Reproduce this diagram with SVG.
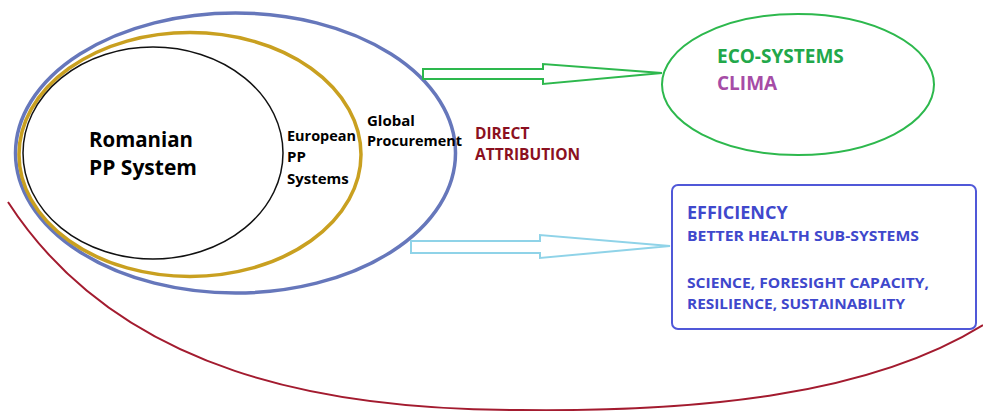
<svg xmlns="http://www.w3.org/2000/svg" width="983" height="411" viewBox="0 0 983 411">
<style>
text{font-family:"Open Sans","Liberation Sans",sans-serif;font-weight:700}
.blk{fill:#000}
.blu{fill:#3f48cc}
</style>
<rect width="983" height="411" fill="#fff"/>
<g id="outer-arc">
<path d="M8,202 C120,375 330,410 520,410 C700,412 870,395 983,325" fill="none" stroke="#a31b2f" stroke-width="2"/>
</g>
<g id="global">
<ellipse cx="235.5" cy="153" rx="220" ry="140" fill="none" stroke="#6677bb" stroke-width="3.5"/>
<text class="blk" x="367" y="126" font-size="15">Global</text>
<text class="blk" x="367" y="146" font-size="15" textLength="95" lengthAdjust="spacingAndGlyphs">Procurement</text>
</g>
<g id="european">
<ellipse cx="190" cy="154.5" rx="171" ry="122" fill="none" stroke="#c9a020" stroke-width="3.5"/>
<text class="blk" x="287" y="141" font-size="15" textLength="69" lengthAdjust="spacingAndGlyphs">European</text>
<text class="blk" x="287" y="162" font-size="15">PP</text>
<text class="blk" x="287" y="184" font-size="15">Systems</text>
</g>
<g id="romanian">
<ellipse cx="153" cy="153" rx="130" ry="106" fill="none" stroke="#111" stroke-width="1.5"/>
<text class="blk" x="89" y="147" font-size="21" textLength="104" lengthAdjust="spacingAndGlyphs">Romanian</text>
<text class="blk" x="89" y="175" font-size="21">PP System</text>
</g>
<g id="direct">
<text x="475" y="139" font-size="15.5" fill="#8b1020">DIRECT</text>
<text x="475" y="160" font-size="15.5" fill="#8b1020">ATTRIBUTION</text>
</g>
<g id="connectors">
<polygon points="423,69 543,69 543,64 662,73 543,84 543,79 423,79" fill="#fff" stroke="#2db84d" stroke-width="2"/>
<polygon points="411,241 540,241 540,235 670,246 540,258 540,253 411,253" fill="#fff" stroke="#8fd3e8" stroke-width="2"/>
</g>
<g id="eco">
<ellipse cx="798" cy="84.5" rx="136" ry="70.5" fill="#fff" stroke="#2db84d" stroke-width="2"/>
<text x="717" y="63" font-size="19" fill="#22a84a">ECO-SYSTEMS</text>
<text x="717" y="90" font-size="19" fill="#a64ca6">CLIMA</text>
</g>
<g id="efficiency">
<rect x="672" y="185" width="304" height="144" rx="6" fill="#fff" stroke="#5058d8" stroke-width="2"/>
<text class="blu" x="687" y="219" font-size="18">EFFICIENCY</text>
<text class="blu" x="687" y="241" font-size="14.5" textLength="232" lengthAdjust="spacingAndGlyphs">BETTER HEALTH SUB-SYSTEMS</text>
<text class="blu" x="687" y="288" font-size="14.5" textLength="242" lengthAdjust="spacingAndGlyphs">SCIENCE, FORESIGHT CAPACITY,</text>
<text class="blu" x="687" y="309" font-size="14.5" textLength="218" lengthAdjust="spacingAndGlyphs">RESILIENCE, SUSTAINABILITY</text>
</g>
</svg>
